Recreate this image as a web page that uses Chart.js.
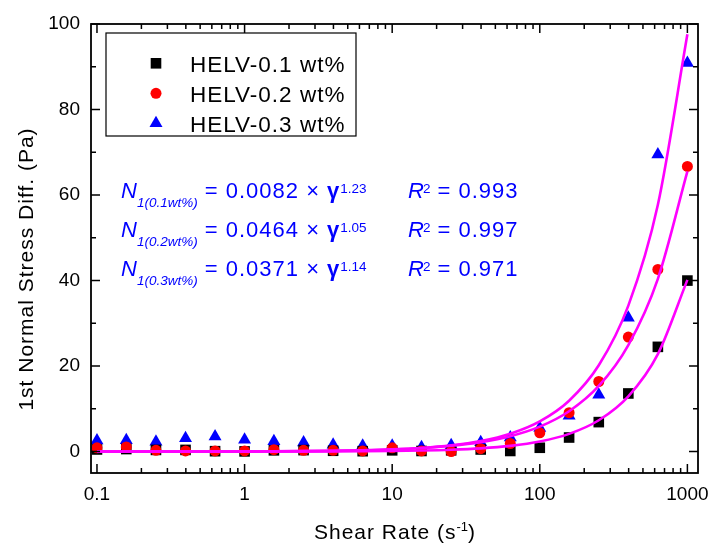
<!DOCTYPE html>
<html>
<head>
<meta charset="utf-8">
<script src="https://cdn.jsdelivr.net/npm/chart.js@4.4.1/dist/chart.umd.min.js"></script>
<style>
  body { margin: 0; background: #fff; }
  #wrap { width: 709px; height: 545px; }
</style>
</head>
<body>
<div id="wrap"><canvas id="myChart" width="709" height="545"></canvas></div>
<script>
// shear rate (1/s), 5 points per decade
var shearRate = [0.1, 0.158, 0.251, 0.398, 0.631, 1, 1.58, 2.51, 3.98, 6.31, 10, 15.8, 25.1, 39.8, 63.1, 100, 158, 251, 398, 631, 1000];
// first normal stress difference (Pa)
var helv01 = [0.5, 0.6, 0.4, 0.4, 0.1, 0.05, 0.3, 0.35, 0.2, 0.1, 0.3, 0.15, 0.3, 0.5, 0.15, 0.9, 3.3, 6.9, 13.6, 24.5, 40.0];
var helv02 = [0.9, 1.1, 0.3, 0.15, 0.15, 0.15, 0.45, 0.3, 0.3, 0.15, 0.9, 0.15, 0.0, 0.7, 1.9, 4.4, 9.1, 16.4, 26.8, 42.6, 66.7];
var helv03 = [2.6, 2.65, 2.3, 3.1, 3.55, 2.8, 2.4, 2.15, 1.6, 1.4, 1.35, 1.0, 1.5, 2.2, 3.3, 5.5, 8.4, 13.3, 31.3, 69.5, 90.9];

var seriesNames = ["HELV-0.1 wt%", "HELV-0.2 wt%", "HELV-0.3 wt%"];
// power law fits N1 = a * rate^b, as printed on the chart
var fitA = ["0.0082", "0.0464", "0.0371"];
var fitB = ["1.23", "1.05", "1.14"];
var fitR2 = ["0.993", "0.997", "0.971"];
var fitSub = ["1(0.1wt%)", "1(0.2wt%)", "1(0.3wt%)"];

var xTicks = [0.1, 1, 10, 100, 1000];
var yTicks = [0, 20, 40, 60, 80, 100];

var FONT = "'Liberation Sans', Arial, sans-serif";
var BLUE = "#0000ff";

function pts(ys) {
    return shearRate.map((x, i) => ({ x: x, y: ys[i] }));
}
function fitPts(k) {
    var a = parseFloat(fitA[k]), b = parseFloat(fitB[k]);
    return shearRate.map(x => ({ x: x, y: a * Math.pow(x, b) }));
}

var datasets = [];
for (let k = 0; k < 3; k++) {
    datasets.push({
        label: "fit" + k,
        data: fitPts(k),
        showLine: true,
        borderColor: "#ff00ff",
        borderWidth: 2.6,
        pointRadius: 0,
        cubicInterpolationMode: "monotone",
        order: 0
    });
}
datasets.push({ label: seriesNames[1], data: pts(helv02), pointStyle: "circle", pointRadius: 5.5, backgroundColor: "#ff0000", borderColor: "#ff0000", borderWidth: 0, showLine: false, order: 1 });
datasets.push({ label: seriesNames[0], data: pts(helv01), pointStyle: "rect", pointRadius: 7.5, backgroundColor: "#000000", borderColor: "#000000", borderWidth: 0, showLine: false, order: 2 });
datasets.push({ label: seriesNames[2], data: pts(helv03), pointStyle: "triangle", pointRadius: 7.5, backgroundColor: "#0000ff", borderColor: "#0000ff", borderWidth: 0, showLine: false, order: 3 });

function drawRuns(ctx, x, y, runs, measureOnly) {
    var x0 = x;
    runs.forEach(r => {
        ctx.font = r.font;
        ctx.letterSpacing = r.ls || "0px";
        if (!measureOnly) ctx.fillText(r.t, x + (r.dx || 0), y + (r.dy || 0));
        x += ctx.measureText(r.t).width + (r.dx || 0);
    });
    ctx.letterSpacing = "0px";
    return x - x0;
}

var decor = {
    id: "decor",
    afterDraw(chart) {
        var ctx = chart.ctx, a = chart.chartArea;
        var xs = chart.scales.x, ys = chart.scales.y;
        ctx.save();

        // frame
        ctx.strokeStyle = "#000";
        ctx.lineWidth = 1.8;
        ctx.strokeRect(a.left, a.top, a.right - a.left, a.bottom - a.top);

        // inward ticks on all four sides
        ctx.lineWidth = 1.5;
        ctx.beginPath();
        var xMinor = [];
        xTicks.forEach(d => { for (let m = 2; m <= 9; m++) xMinor.push(d * m); });
        var drawX = (v, len) => {
            var px = xs.getPixelForValue(v);
            if (px < a.left + 1 || px > a.right - 1) return;
            ctx.moveTo(px, a.bottom); ctx.lineTo(px, a.bottom - len);
            ctx.moveTo(px, a.top); ctx.lineTo(px, a.top + len);
        };
        xTicks.forEach(v => drawX(v, 9));
        xMinor.forEach(v => drawX(v, 5));
        var drawY = (v, len) => {
            var py = ys.getPixelForValue(v);
            ctx.moveTo(a.left, py); ctx.lineTo(a.left + len, py);
            ctx.moveTo(a.right, py); ctx.lineTo(a.right - len, py);
        };
        yTicks.forEach(v => drawY(v, 9));
        yTicks.slice(0, -1).forEach(v => drawY(v + 10, 5));
        ctx.stroke();

        // legend box
        var lx = 106, ly = 33, lw = 250, lh = 103;
        ctx.lineWidth = 1.2;
        ctx.strokeRect(lx, ly, lw, lh);
        var order = [4, 3, 5];
        ctx.textBaseline = "alphabetic";
        ctx.textAlign = "left";
        order.forEach((di, i) => {
            var ds = chart.data.datasets[di];
            var cy = 63.3 + i * 30;
            ctx.fillStyle = ds.backgroundColor;
            Chart.helpers.drawPoint(ctx, { pointStyle: ds.pointStyle, radius: ds.pointRadius, rotation: 0, borderWidth: 0 }, 156, cy);
            ctx.fillStyle = "#000";
            ctx.font = "22.5px " + FONT;
            ctx.letterSpacing = "1px";
            ctx.fillText(ds.label, 190, cy + 8.3);
            ctx.letterSpacing = "0px";
        });

        // fit equations
        ctx.fillStyle = BLUE;
        for (let k = 0; k < 3; k++) {
            var by = 198.3 + k * 39;
            drawRuns(ctx, 121, by, [
                { t: "N", font: "italic 22px " + FONT },
                { t: fitSub[k], font: "italic 13.5px " + FONT, dy: 9 },
                { t: " = " + fitA[k] + " \u00d7 ", font: "22px " + FONT, ls: "1px" },
                { t: "\u03b3", font: "bold 22px " + FONT },
                { t: fitB[k], font: "13.5px " + FONT, dy: -5, dx: 1 }
            ]);
            drawRuns(ctx, 408, by, [
                { t: "R", font: "italic 22px " + FONT },
                { t: "2", font: "13.5px " + FONT, dy: -5, dx: -1 },
                { t: " = " + fitR2[k], font: "22px " + FONT, ls: "1px" }
            ]);
        }

        // axis titles
        ctx.fillStyle = "#000";
        var xRuns = [
            { t: "Shear Rate (s", font: "21px " + FONT, ls: "1px" },
            { t: "-1", font: "13px " + FONT, dy: -8 },
            { t: ")", font: "21px " + FONT, ls: "1px" }
        ];
        var w = drawRuns(ctx, 0, 0, xRuns, true);
        drawRuns(ctx, 395 - w / 2, 539.3, xRuns);

        ctx.translate(33, 269);
        ctx.rotate(-Math.PI / 2);
        ctx.font = "21px " + FONT;
        ctx.letterSpacing = "1px";
        ctx.textAlign = "center";
        ctx.fillText("1st Normal Stress Diff. (Pa)", 0, 0);
        ctx.restore();
    }
};

var ctx = document.getElementById("myChart").getContext("2d");
var myChart = new Chart(ctx, {
    type: "scatter",
    data: { datasets: datasets },
    options: {
        responsive: false,
        animation: false,
        layout: { padding: { top: 24, right: 11, left: 0, bottom: 0 } },
        plugins: {
            legend: { display: false },
            tooltip: { enabled: false }
        },
        scales: {
            x: {
                type: "logarithmic",
                min: 0.0911,
                max: 1180,
                grid: { display: false, drawTicks: false },
                border: { display: false },
                ticks: {
                    color: "#000",
                    font: { family: FONT, size: 19 },
                    padding: 10,
                    autoSkip: false,
                    maxRotation: 0,
                    callback: v => String(v)
                },
                afterBuildTicks: s => { s.ticks = xTicks.map(v => ({ value: v })); },
                afterFit: s => { s.height = 72; s.paddingLeft = 0; s.paddingRight = 0; }
            },
            y: {
                min: -5,
                max: 100,
                grid: { display: false, drawTicks: false },
                border: { display: false },
                ticks: {
                    color: "#000",
                    font: { family: FONT, size: 19 },
                    padding: 11
                },
                afterBuildTicks: s => { s.ticks = yTicks.map(v => ({ value: v })); },
                afterFit: s => { s.width = 91; s.paddingTop = 0; s.paddingBottom = 0; }
            }
        }
    },
    plugins: [decor]
});
</script>
</body>
</html>
